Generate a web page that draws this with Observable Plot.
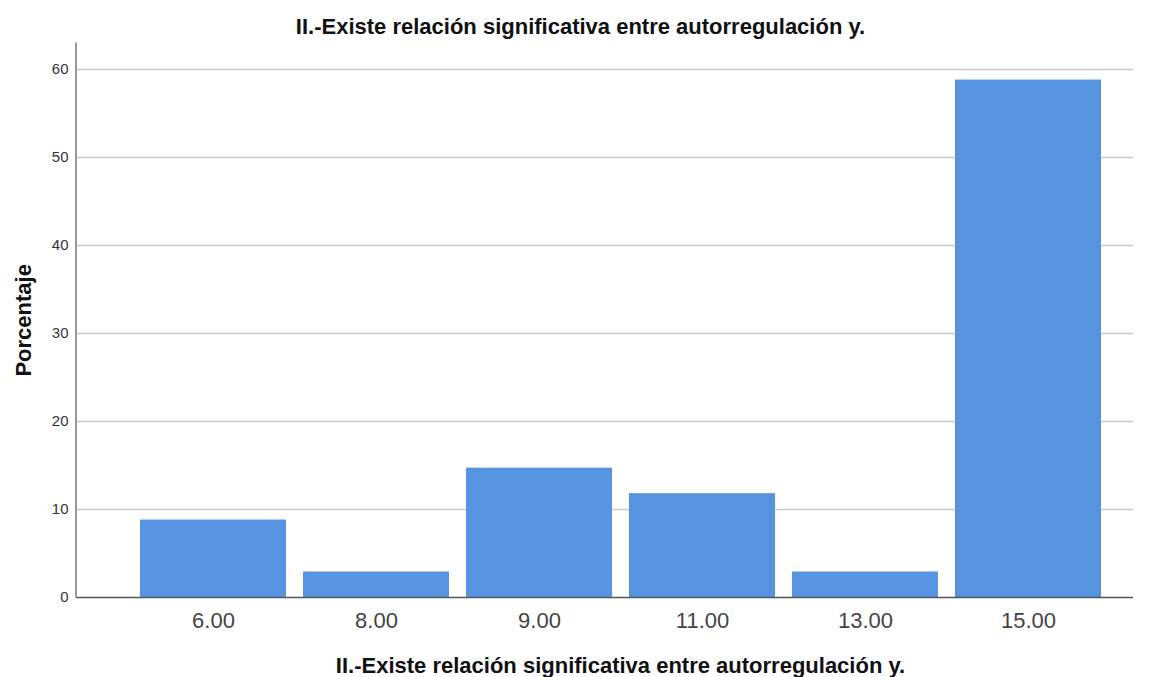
<!DOCTYPE html>
<html>
<head>
<meta charset="utf-8">
<script src="https://cdn.jsdelivr.net/npm/d3@7"></script>
<script src="https://cdn.jsdelivr.net/npm/@observablehq/plot@0.6"></script>
<style>
  html, body { margin: 0; padding: 0; background: #fff; }
  #chart { width: 1155px; height: 677px; }
</style>
</head>
<body>
<div id="chart"></div>
<script>
const categories = ["6.00", "8.00", "9.00", "11.00", "13.00", "15.00"];
const percentages = [8.8, 2.9, 14.7, 11.8, 2.9, 58.8];
const yTicks = [0, 10, 20, 30, 40, 50, 60];
const gridTicks = [10, 20, 30, 40, 50, 60];
const titleText = "II.-Existe relación significativa entre autorregulación y.";
const xLabelText = "II.-Existe relación significativa entre autorregulación y.";
const yLabelText = "Porcentaje";

const data = categories.map((c, i) => ({category: c, value: percentages[i]}));

const leftAxisLine = (index, scales, values, dims) => {
  const x = dims.marginLeft;
  return d3.create("svg:line")
    .attr("x1", x).attr("x2", x)
    .attr("y1", dims.marginTop).attr("y2", dims.height - dims.marginBottom)
    .attr("stroke", "#9a9a9a").attr("stroke-width", 2)
    .node();
};

const chart = Plot.plot({
  width: 1155,
  height: 677,
  marginLeft: 76,
  marginRight: 22,
  marginTop: 42.6,
  marginBottom: 80,
  style: {fontFamily: "'Liberation Sans', Arial, sans-serif", background: "#fff"},
  x: {type: "band", domain: categories, range: [130, 1111], paddingInner: 0.104, paddingOuter: 0.052, label: null},
  y: {domain: [0, 63], label: null},
  marks: [
    Plot.ruleY(gridTicks, {stroke: "#c9c9c9", strokeWidth: 1.5}),
    Plot.barY(data, {x: "category", y: "value", fill: "#5694e2"}),
    Plot.ruleY([0], {stroke: "#555", strokeWidth: 1.5}),
    leftAxisLine,
    Plot.axisY({ticks: yTicks, tickSize: 0, tickPadding: 8, fontSize: 15, fill: "#333", label: null}),
    Plot.axisX({tickSize: 0, tickPadding: 15, fontSize: 22, fill: "#444", label: null}),
    Plot.text([titleText], {text: d => d, frameAnchor: "top", textAnchor: "middle", dx: -24.5, dy: -25, lineAnchor: "top", fontSize: 22, fontWeight: "bold", fill: "#111"}),
    Plot.text([xLabelText], {text: d => d, frameAnchor: "bottom", textAnchor: "middle", dx: 15.5, dy: 60, lineAnchor: "top", fontSize: 22, fontWeight: "bold", fill: "#111"}),
    Plot.text([yLabelText], {text: d => d, frameAnchor: "left", textAnchor: "middle", dx: -53, rotate: -90, lineAnchor: "middle", fontSize: 22, fontWeight: "bold", fill: "#111"})
  ]
});
document.getElementById("chart").appendChild(chart);
</script>
</body>
</html>
